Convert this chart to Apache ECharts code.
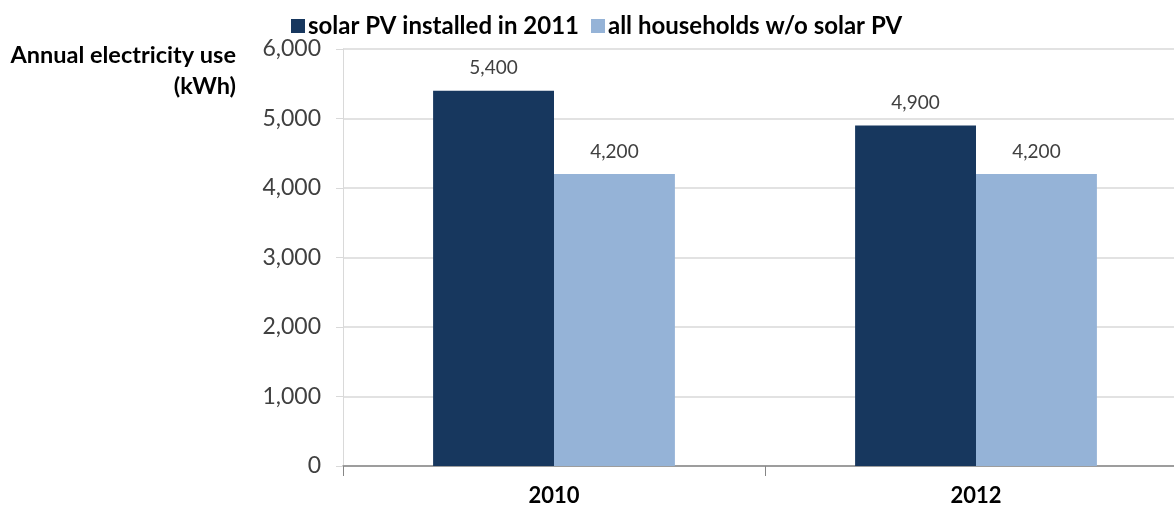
<!DOCTYPE html>
<html><head><meta charset="utf-8">
<script src="https://cdn.jsdelivr.net/npm/echarts@6/dist/echarts.min.js"></script>
<style>html,body{margin:0;padding:0;background:#fff;overflow:hidden}#c{width:1187px;height:508px}</style>
</head><body><div id="c"></div>
<script>
const categories = ['2010', '2012'];
const seriesNames = ['solar PV installed in 2011', 'all households w/o solar PV'];
const solarPV = [5400, 4900];
const noSolar = [4200, 4200];
const yTicks = [0, 1000, 2000, 3000, 4000, 5000, 6000];
const yTitle = ['Annual electricity use', '(kWh)'];

const FONT = 'Lato, "Open Sans", sans-serif';
const chart = echarts.init(document.getElementById('c'));
const fmt = v => v.toLocaleString('en-US');
chart.setOption({
  animation: false,
  grid: { left: 343, right: 0, top: 49, bottom: 42, containLabel: false },
  legend: {
    data: seriesNames, top: 9, left: 286, itemWidth: 14, itemHeight: 14, itemGap: 12,
    icon: 'rect',
    textStyle: { fontFamily: FONT, fontSize: 24, fontWeight: 'bold', color: '#000', padding: [0,0,0,-2] }
  },
  graphic: [
    { type: 'text', x: 236, y: 43, style: { text: yTitle[0], font: 'bold 23.5px ' + FONT, fill: '#000', textAlign: 'right' } },
    { type: 'text', x: 236, y: 74, style: { text: yTitle[1], font: 'bold 23.5px ' + FONT, fill: '#000', textAlign: 'right' } }
  ],
  xAxis: {
    type: 'category', data: categories,
    axisLine: { lineStyle: { color: '#868686', width: 1.5 } },
    axisTick: { show: true, length: 10, lineStyle: { color: '#868686' } },
    axisLabel: { fontFamily: FONT, fontSize: 22, fontWeight: 'bold', color: '#000', margin: 19 }
  },
  yAxis: {
    type: 'value', min: yTicks[0], max: yTicks[yTicks.length - 1], interval: 1000,
    axisLine: { show: true, lineStyle: { color: '#d9d9d9' } },
    axisTick: { show: true, length: 7, lineStyle: { color: '#d9d9d9' } },
    splitLine: { lineStyle: { color: '#d9d9d9', width: 1.5 } },
    axisLabel: { fontFamily: FONT, fontSize: 23, color: '#404040', margin: 22, formatter: v => fmt(v) }
  },
  series: [
    { name: seriesNames[0], type: 'bar', data: solarPV, barGap: '0%', barCategoryGap: '42.7%',
      itemStyle: { color: '#17375E' },
      label: { show: true, position: 'top', distance: 13, fontFamily: FONT, fontSize: 19, color: '#404040', formatter: p => fmt(p.value) } },
    { name: seriesNames[1], type: 'bar', data: noSolar,
      itemStyle: { color: '#95B3D7' },
      label: { show: true, position: 'top', distance: 13, fontFamily: FONT, fontSize: 19, color: '#404040', formatter: p => fmt(p.value) } }
  ]
});
</script></body></html>
